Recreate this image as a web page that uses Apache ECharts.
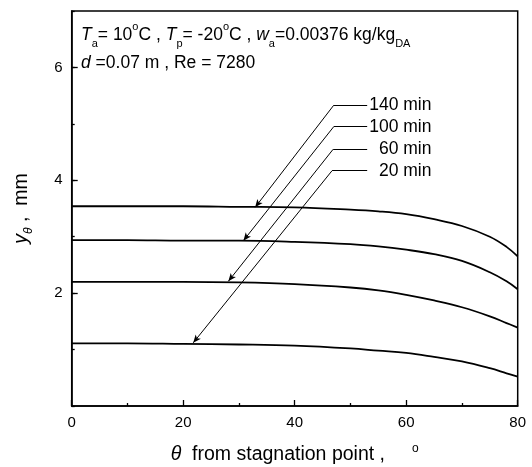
<!DOCTYPE html>
<html><head><meta charset="utf-8">
<script src="https://cdn.jsdelivr.net/npm/echarts@6/dist/echarts.min.js"></script>
<style>html,body{margin:0;padding:0;background:#fff}#c{width:532px;height:467px}</style>
</head><body><div id="c"></div>
<script>
// ---- data ----
var theta = [0, 10, 20, 30, 40, 50, 55, 60, 65, 70, 75, 78, 80];
var y140 = [3.54, 3.54, 3.54, 3.53, 3.52, 3.48, 3.45, 3.40, 3.31, 3.19, 3.00, 2.82, 2.65];
var y100 = [2.94, 2.94, 2.93, 2.93, 2.91, 2.87, 2.83, 2.77, 2.69, 2.57, 2.37, 2.21, 2.07];
var y60  = [2.20, 2.20, 2.20, 2.19, 2.16, 2.10, 2.05, 1.97, 1.87, 1.75, 1.59, 1.47, 1.39];
var y20  = [1.11, 1.11, 1.10, 1.09, 1.07, 1.02, 0.98, 0.94, 0.87, 0.79, 0.67, 0.58, 0.52];
var seriesNames = ['140 min', '100 min', '60 min', '20 min'];
// annotation anchors: [label-line left end x, y], arrow tip [x, y]
var labelAnchor = [[47.0, 5.33], [47.0, 4.95], [46.9, 4.55], [46.7, 4.17]];
var arrowTip = [[32.9, 3.52], [30.8, 2.93], [28.1, 2.21], [21.8, 1.12]];
var labelLineRight = 53.0;
var xTicks = [0, 20, 40, 60, 80];
var yTicks = [2, 4, 6];

var FONT = "'Liberation Sans', Arial, sans-serif";
var all = [y140, y100, y60, y20];

function pairs(ys) { return theta.map(function (t, i) { return [t, ys[i]]; }); }

var series = all.map(function (ys, k) {
  return {
    type: 'line', name: seriesNames[k], data: pairs(ys), showSymbol: false, symbol: 'none',
    smooth: 0.4,
    lineStyle: { color: '#000', width: 1.8 }, animation: false, silent: true,
    markLine: {
      silent: true, animation: false, symbolSize: [5, 8],
      lineStyle: { color: '#000', width: 1, type: 'solid' },
      data: [
        [{ coord: [labelAnchor[k][0], labelAnchor[k][1]], symbol: 'none',
           label: { show: true, position: 'end', formatter: (k === 0 || k === 1 ? '' : '  ') + seriesNames[k],
                    color: '#000', fontFamily: FONT, fontSize: 17.5, distance: 2 } },
         { coord: [labelLineRight, labelAnchor[k][1]], symbol: 'none' }],
        [{ coord: [labelAnchor[k][0], labelAnchor[k][1]], symbol: 'none', label: { show: false } },
         { coord: [arrowTip[k][0], arrowTip[k][1]], symbol: 'arrow' }]
      ]
    }
  };
});

var chart = echarts.init(document.getElementById('c'), null, { renderer: 'canvas' });
var sub = { fontSize: 11, fontFamily: FONT, color: '#000', verticalAlign: 'bottom', lineHeight: 24 };
var sup = { fontSize: 11, fontFamily: FONT, color: '#000', verticalAlign: 'top', lineHeight: 24 };
var nrm = { fontSize: 17.5, fontFamily: FONT, color: '#000', lineHeight: 28 };
var itl = { fontSize: 17.5, fontFamily: FONT, color: '#000', fontStyle: 'italic', lineHeight: 28 };
var anrm = { fontSize: 19.5, fontFamily: FONT, color: '#000', lineHeight: 24 };
var aitl = { fontSize: 19.5, fontFamily: FONT, color: '#000', fontStyle: 'italic', lineHeight: 24 };
var asup = { fontSize: 12, fontFamily: FONT, color: '#000', verticalAlign: 'top', lineHeight: 24 };
var asub = { fontSize: 12, fontFamily: FONT, color: '#000', fontStyle: 'italic', verticalAlign: 'bottom', lineHeight: 26 };

chart.setOption({
  animation: false,
  grid: { left: 71.7, right: 14.3, top: 11, bottom: 61, show: true, borderColor: '#000', borderWidth: 1.5,
          containLabel: false, outerBoundsMode: 'none' },
  xAxis: {
    type: 'value', min: 0, max: 80, interval: 20,
    axisLine: { show: true, lineStyle: { color: '#000', width: 1.5 } },
    axisTick: { inside: true, length: 6, lineStyle: { color: '#000', width: 1.3 } },
    minorTick: { show: true, splitNumber: 2, length: 3, lineStyle: { color: '#000', width: 1.3 } },
    splitLine: { show: false },
    axisLabel: { color: '#000', fontSize: 15, fontFamily: FONT, margin: 9,
      formatter: function (v) { return xTicks.indexOf(v) >= 0 ? String(v) : ''; } },
    name: '{t|θ}{n|  from stagnation point ,     }{s|o}',
    nameLocation: 'middle', nameGap: 37,
    nameTextStyle: { rich: { t: aitl, n: anrm, s: asup } }
  },
  yAxis: [{
    type: 'value', min: 0, max: 7, interval: 2, position: 'left',
    axisLine: { show: true, lineStyle: { color: '#000', width: 1.5 } },
    axisTick: { inside: true, length: 6, lineStyle: { color: '#000', width: 1.3 } },
    splitLine: { show: false },
    axisLabel: { color: '#000', fontSize: 15, fontFamily: FONT, margin: 9, showMinLabel: false, showMaxLabel: false,
      formatter: function (v) { return yTicks.indexOf(v) >= 0 ? String(v) : ''; } },
    name: '{y|y}{s|θ}{n| ,  mm}',
    nameLocation: 'middle', nameRotate: 90, nameGap: 37,
    nameTextStyle: { rich: { y: aitl, s: asub, n: anrm } }
  }, {
    type: 'value', min: 0, max: 7, interval: 1, position: 'left',
    axisLine: { show: false },
    axisTick: { inside: true, length: 3, lineStyle: { color: '#000', width: 1.3 } },
    splitLine: { show: false }, axisLabel: { show: false }
  }],
  series: series.concat([{ type: 'line', yAxisIndex: 1, data: [], silent: true }]),
  graphic: [{
    type: 'text', left: 81, top: 21, silent: true,
    style: {
      text: '{i|T}{b|a}{n|= 10}{p|o}{n|C , }{i|T}{b|p}{n|= -20}{p|o}{n|C , }{i|w}{b|a}{n|=0.00376 kg/kg}{b|DA}\n{i|d}{n| =0.07 m , Re = 7280}',
      rich: { i: itl, n: nrm, b: sub, p: sup }
    }
  }]
});
</script></body></html>
